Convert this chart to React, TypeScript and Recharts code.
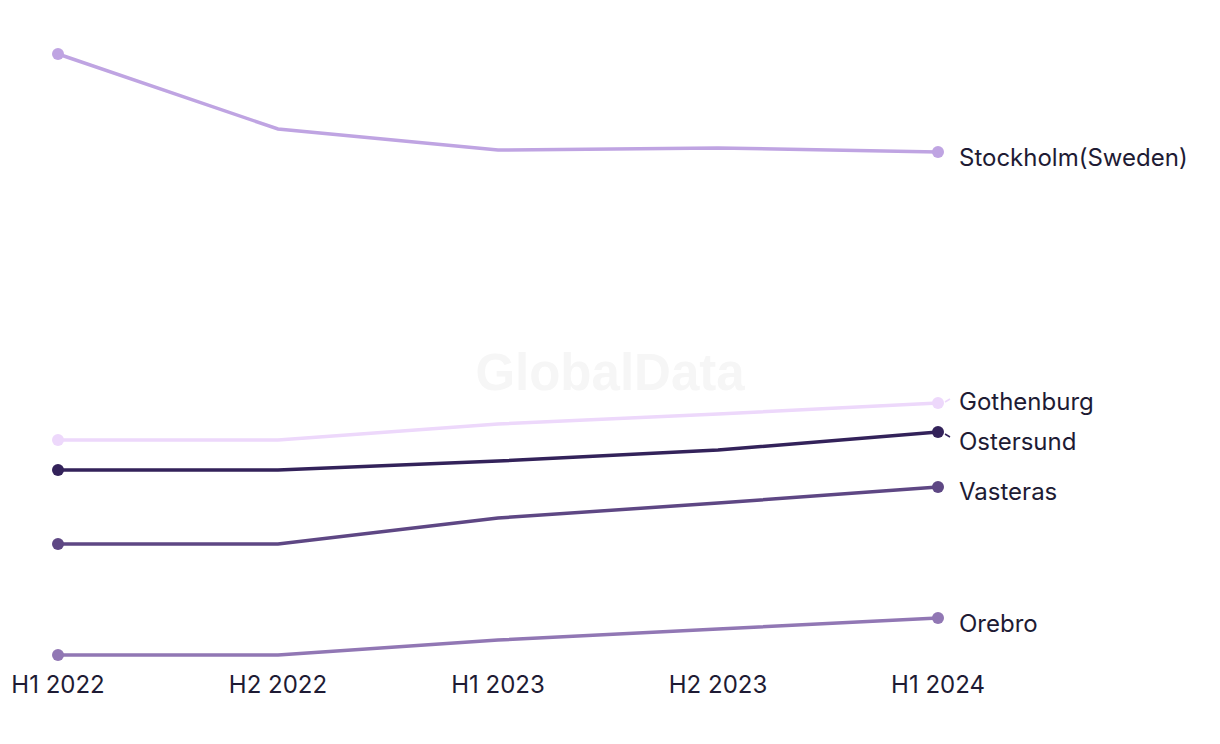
import React from "react";
import { LineChart, Line, XAxis, YAxis } from "recharts";

const periods = ["H1 2022", "H2 2022", "H1 2023", "H2 2023", "H1 2024"];
const stockholm = [121.2, 106.2, 102.0, 102.4, 101.6];
const gothenburg = [44.0, 44.0, 47.2, 49.2, 51.4];
const ostersund = [38.0, 38.0, 39.8, 42.0, 45.6];
const vasteras = [23.2, 23.2, 28.4, 31.4, 34.6];
const orebro = [1.0, 1.0, 4.0, 6.2, 8.4];

const seriesNames = ["Stockholm(Sweden)", "Gothenburg", "Ostersund", "Vasteras", "Orebro"];
const seriesValues = [stockholm, gothenburg, ostersund, vasteras, orebro];

const colors: Record<string, string> = {
  "Stockholm(Sweden)": "#BFA4E2",
  Gothenburg: "#EDD8FB",
  Ostersund: "#33225A",
  Vasteras: "#5E4784",
  Orebro: "#9177B4",
};
// label vertical nudges (style only) to keep end labels apart
const labelShift: Record<string, number> = {
  "Stockholm(Sweden)": 5,
  Gothenburg: -2,
  Ostersund: 9,
  Vasteras: 4,
  Orebro: 5,
};

const data = periods.map((p, i) => {
  const row: Record<string, string | number> = { period: p };
  seriesNames.forEach((n, k) => {
    row[n] = seriesValues[k][i];
  });
  return row;
});

const FONT = "Inter, 'Noto Sans', sans-serif";
const TEXT = "#1E1B34";

const Tick = (props: any) => {
  const { x, y, payload } = props;
  return (
    <text x={x} y={y + 25} textAnchor="middle" fontFamily={FONT} fontSize={24} fill={TEXT}>
      {payload.value}
    </text>
  );
};

const makeDot = (name: string) => (props: any) => {
  const { cx, cy, index } = props;
  if (index !== 0 && index !== periods.length - 1) return <g key={`d${index}`} />;
  return <circle key={`d${index}`} cx={cx} cy={cy} r={6} fill={colors[name]} />;
};

const makeLabel = (name: string) => (props: any) => {
  const { x, y, index } = props;
  if (index !== periods.length - 1) return null;
  const shift = labelShift[name];
  const ly = y + shift;
  const showLeader = Math.abs(shift) >= 8 || shift < 0;
  return (
    <g>
      {showLeader && (
        <line
          x1={x + 7}
          y1={y + (shift > 0 ? 2 : -1)}
          x2={x + 12}
          y2={y + (shift > 0 ? 5 : -4)}
          stroke={colors[name]}
          strokeWidth={1.5}
        />
      )}
      <text
        x={x + 21}
        y={ly}
        dominantBaseline="central"
        fontFamily={FONT}
        fontSize={24}
        fill={TEXT}
      >
        {name}
      </text>
    </g>
  );
};

export default function App() {
  return (
    <div style={{ position: "absolute", left: 0, top: 0, width: 1220, height: 744, background: "#fff" }}>
      <div
        style={{
          position: "absolute",
          left: 0,
          width: 1220,
          top: 342,
          textAlign: "center",
          fontFamily: "'Liberation Sans', Arial, sans-serif",
          fontWeight: 700,
          fontSize: 51,
          color: "#F6F6F6",
          lineHeight: "62px",
        }}
      >
        GlobalData
      </div>
      <div style={{ position: "absolute", left: 0, top: 0 }}>
        <LineChart
          width={1220}
          height={744}
          data={data}
          margin={{ top: 40, right: 282, left: 58, bottom: 54 }}
        >
          <XAxis
            dataKey="period"
            axisLine={false}
            tickLine={false}
            height={30}
            tick={<Tick />}
            interval={0}
          />
          <YAxis hide domain={[0, 124]} />
          {seriesNames.map((n) => (
            <Line
              key={n}
              dataKey={n}
              type="linear"
              stroke={colors[n]}
              strokeWidth={3.5}
              dot={makeDot(n)}
              activeDot={false}
              isAnimationActive={false}
              label={makeLabel(n)}
            />
          ))}
        </LineChart>
      </div>
    </div>
  );
}
